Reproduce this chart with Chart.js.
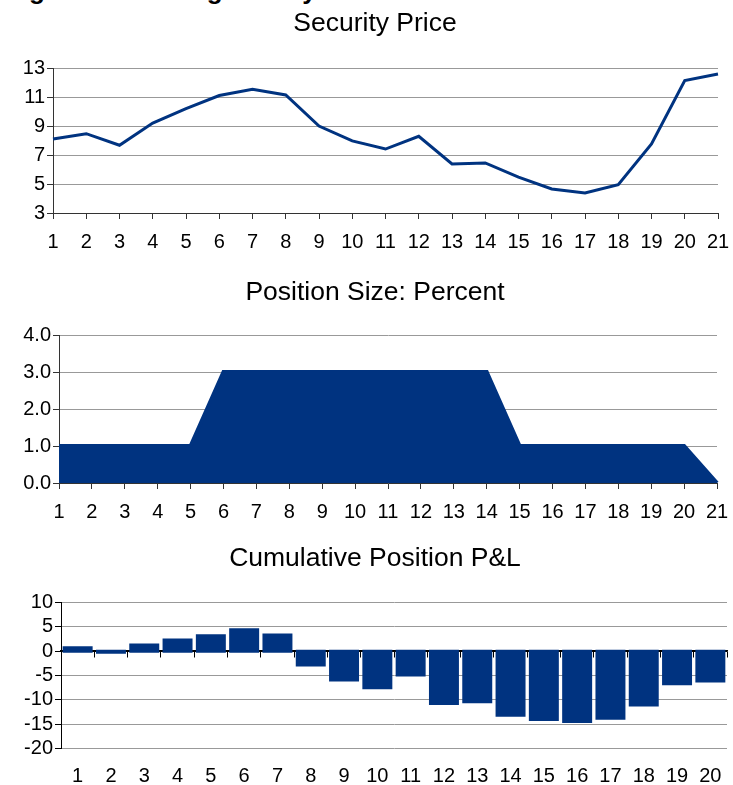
<!DOCTYPE html>
<html>
<head>
<meta charset="utf-8">
<script src="https://cdn.jsdelivr.net/npm/chart.js@4.4.1/dist/chart.umd.min.js"></script>
<style>
body { margin: 0; background: #fff; width: 733px; height: 785px; overflow: hidden; position: relative; font-family: "Liberation Sans", Arial, sans-serif; }
.box { position: absolute; left: 0; width: 733px; }
.ttl { position: absolute; left: 0; width: 750px; text-align: center; font-size: 26.5px; line-height: 30px; color: #000; white-space: nowrap; }
#fig { position: absolute; left: 6px; top: -23px; font: bold 26px/26px "Liberation Sans", Arial, sans-serif; white-space: nowrap; }
</style>
</head>
<body>
<div id="fig">Figure 2: Leverage Study</div>
<div class="box" style="top:0;height:265px"><canvas id="priceChart"></canvas></div>
<div class="box" style="top:265px;height:265px"><canvas id="sizeChart"></canvas></div>
<div class="box" style="top:530px;height:255px"><canvas id="plChart"></canvas></div>
<div class="ttl" style="top:7px">Security Price</div>
<div class="ttl" style="top:276px">Position Size: Percent</div>
<div class="ttl" style="top:542px">Cumulative Position P&amp;L</div>
<script>
const days = ["1","2","3","4","5","6","7","8","9","10","11","12","13","14","15","16","17","18","19","20","21"];
const plDays = ["1","2","3","4","5","6","7","8","9","10","11","12","13","14","15","16","17","18","19","20"];
const price = [8.1, 8.47, 7.67, 9.2, 10.2, 11.1, 11.53, 11.14, 9.0, 7.97, 7.41, 8.29, 6.38, 6.45, 5.48, 4.66, 4.38, 4.95, 7.76, 12.13, 12.59];
const positionPct = [1, 1, 1, 1, 1, 3, 3, 3, 3, 3, 3, 3, 3, 3, 1, 1, 1, 1, 1, 1, 0];
const cumPL = [0.6, -0.1, 1.2, 2.2, 3.1, 4.3, 3.25, -2.75, -5.8, -7.4, -4.8, -10.65, -10.3, -13.1, -13.95, -14.35, -13.7, -10.95, -6.6, -6.05];

const navy = "#003380";
const gridGray = "#999999";
const axisDark = "#333333";

Chart.defaults.font.family = '"Liberation Sans", Arial, sans-serif';
Chart.defaults.font.size = 20;
Chart.defaults.color = "#000";
Chart.defaults.animation = false;
Chart.defaults.plugins.legend.display = false;
Chart.defaults.plugins.tooltip.enabled = false;

function yAxis(width, min, max, step, fmt) {
	return {
		min: min, max: max,
		ticks: { stepSize: step, padding: 2, autoSkip: false, callback: fmt },
		grid: { color: gridGray, tickColor: axisDark, tickLength: 6 },
		border: { color: axisDark },
		afterFit: (s) => { s.width = width; }
	};
}

// label distance is set with the line height, so the tick padding
// does not widen the right margin
function xAxis(height, lh) {
	return {
		ticks: { autoSkip: false, maxRotation: 0, padding: 0, font: { lineHeight: lh } },
		grid: { drawOnChartArea: false, color: axisDark, tickLength: 6 },
		border: { color: axisDark },
		afterFit: (s) => { s.height = height; }
	};
}

// Security price
new Chart(document.getElementById("priceChart"), {
	type: "line",
	data: {
		labels: days,
		datasets: [{ data: price, borderColor: navy, borderWidth: 3, pointRadius: 0, tension: 0 }]
	},
	options: {
		responsive: true,
		maintainAspectRatio: false,
		layout: { padding: { left: 0, right: 15, top: 68, bottom: 0 } },
		scales: {
			x: xAxis(52, 2.3),
			y: yAxis(53, 3, 13, 2, (v) => v)
		}
	}
});

// Position size
new Chart(document.getElementById("sizeChart"), {
	type: "line",
	data: {
		labels: days,
		datasets: [{ data: positionPct, borderColor: navy, backgroundColor: navy, borderWidth: 4, fill: "origin", pointRadius: 0, tension: 0 }]
	},
	options: {
		responsive: true,
		maintainAspectRatio: false,
		layout: { padding: { left: 0, right: 16, top: 70, bottom: 0 } },
		scales: {
			x: xAxis(47, 2.3),
			y: yAxis(59, 0, 4, 1, (v) => v.toFixed(1))
		}
	}
});

// Cumulative P&L
new Chart(document.getElementById("plChart"), {
	type: "bar",
	data: {
		labels: plDays,
		datasets: [{
			data: cumPL,
			backgroundColor: navy,
			borderWidth: 0,
			inflateAmount: 2,
			barPercentage: 0.78,
			categoryPercentage: 1.0
		}]
	},
	options: {
		responsive: true,
		maintainAspectRatio: false,
		layout: { padding: { left: 0, right: 6, top: 72.7, bottom: 0 } },
		scales: {
			x: {
				ticks: { autoSkip: false, maxRotation: 0, padding: 0, font: { lineHeight: 2.77 } },
				grid: { display: false, drawTicks: false },
				border: { display: false },
				afterFit: (s) => { s.height = 36.7; }
			},
			zero: {
				type: "category",
				axis: "x",
				position: { y: 0 },
				offset: true,
				z: 1,
				ticks: { display: false },
				grid: { offset: true, drawOnChartArea: false, color: "#000", tickLength: 6 },
				border: { color: "#000", width: 1.5 }
			},
			y: {
				min: -20, max: 10,
				ticks: { stepSize: 5, padding: 2, autoSkip: false },
				grid: { color: (c) => c.tick && c.tick.value === 0 ? "#000" : gridGray, tickColor: "#000", tickLength: 6 },
				border: { color: "#000" },
				afterFit: (s) => { s.width = 61; }
			}
		}
	}
});
</script>
</body>
</html>
